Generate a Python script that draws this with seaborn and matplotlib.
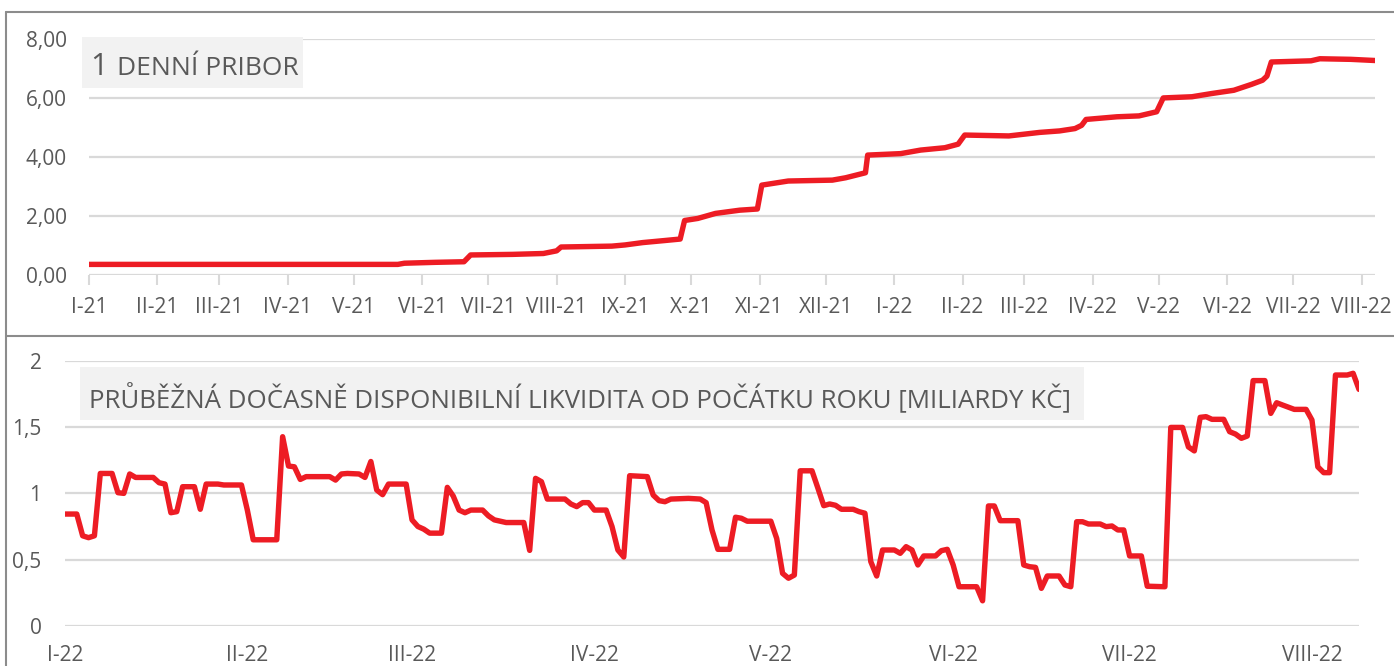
import numpy as np
import pandas as pd
import matplotlib.pyplot as plt
from matplotlib.lines import Line2D
from matplotlib.patches import Rectangle
import seaborn as sns

# 1 denni PRIBOR (%)
pribor_dates = ['2021-01-01', '2021-05-21', '2021-05-24', '2021-06-07', '2021-06-20',
                '2021-06-23', '2021-07-12', '2021-07-26', '2021-08-01', '2021-08-03',
                '2021-08-26', '2021-09-01', '2021-09-09', '2021-09-19', '2021-09-26',
                '2021-09-28', '2021-10-04', '2021-10-12', '2021-10-23', '2021-10-31',
                '2021-11-02', '2021-11-14', '2021-12-04', '2021-12-10', '2021-12-19',
                '2021-12-20', '2022-01-04', '2022-01-13', '2022-01-24', '2022-01-30',
                '2022-02-02', '2022-02-22', '2022-03-08', '2022-03-17', '2022-03-24',
                '2022-03-27', '2022-03-29', '2022-04-12', '2022-04-22', '2022-04-30',
                '2022-05-03', '2022-05-16', '2022-05-25', '2022-06-04', '2022-06-12',
                '2022-06-17', '2022-06-19', '2022-06-21', '2022-07-09', '2022-07-13',
                '2022-07-27', '2022-08-07']
pribor_vals = [0.36, 0.36, 0.40, 0.43, 0.45,
               0.68, 0.70, 0.73, 0.82, 0.95,
               0.98, 1.02, 1.10, 1.17, 1.22,
               1.85, 1.92, 2.09, 2.20, 2.24,
               3.05, 3.19, 3.22, 3.30, 3.47,
               4.07, 4.12, 4.24, 4.32, 4.44,
               4.75, 4.72, 4.84, 4.89, 4.97,
               5.08, 5.28, 5.37, 5.40, 5.54,
               6.01, 6.05, 6.16, 6.27, 6.47,
               6.61, 6.75, 7.23, 7.27, 7.34,
               7.32, 7.28]

# prubezna docasne disponibilni likvidita (mld. Kc), dny od 1.1.2022
liq_days = [0, 2, 3, 4, 5, 6, 8, 9, 10, 11, 12, 15, 16, 17, 18, 19, 20, 22, 23, 24,
            26, 27, 30, 31, 32, 36, 37, 38, 39, 40, 41, 45, 46, 47, 48, 50, 51, 52, 53, 54,
            55, 58, 59, 60, 61, 62, 64, 65, 66, 67, 68, 69, 71, 72, 73, 74, 75, 78, 79, 80,
            81, 82, 85, 86, 87, 88, 89, 90, 92, 93, 94, 95, 96, 99, 100, 101, 102, 103, 106, 108,
            109, 110, 111, 113, 114, 115, 116, 120, 121, 122, 123, 124, 125, 127, 128, 129, 130, 131, 132, 134,
            135, 136, 137, 138, 139, 141, 142, 143, 144, 145, 146, 148, 149, 150, 151, 152, 155, 156, 157, 158,
            159, 162, 163, 164, 165, 166, 167, 169, 170, 171, 172, 173, 174, 176, 177, 178, 179, 180, 181, 183,
            184, 187, 188, 190, 191, 192, 193, 194, 195, 197, 198, 199, 200, 201, 202, 204, 205, 206, 207, 209,
            211, 212, 213, 214, 215, 216, 218, 219, 220]
liq_vals = [0.844, 0.844, 0.68, 0.666, 0.68, 1.15, 1.15, 1.005, 1.0, 1.146, 1.12, 1.12, 1.08, 1.07, 0.854, 0.862, 1.05, 1.05, 0.88, 1.07,
            1.07, 1.063, 1.063, 0.874, 0.65, 0.65, 1.427, 1.206, 1.20, 1.105, 1.126, 1.126, 1.10, 1.146, 1.15, 1.146, 1.12, 1.24, 1.025, 0.99,
            1.07, 1.07, 0.80, 0.75, 0.73, 0.70, 0.70, 1.045, 0.98, 0.874, 0.854, 0.874, 0.874, 0.83, 0.80, 0.79, 0.78, 0.78, 0.57, 1.113,
            1.088, 0.957, 0.957, 0.92, 0.90, 0.93, 0.93, 0.874, 0.874, 0.75, 0.573, 0.52, 1.133, 1.126, 0.987, 0.945, 0.937, 0.957, 0.962, 0.957,
            0.93, 0.724, 0.578, 0.578, 0.82, 0.812, 0.79, 0.79, 0.66, 0.397, 0.36, 0.384, 1.17, 1.17, 1.04, 0.907, 0.92, 0.91, 0.88, 0.88,
            0.862, 0.85, 0.485, 0.377, 0.573, 0.573, 0.548, 0.598, 0.573, 0.46, 0.528, 0.528, 0.568, 0.578, 0.46, 0.296, 0.296, 0.19, 0.905, 0.905,
            0.794, 0.794, 0.46, 0.447, 0.442, 0.284, 0.377, 0.377, 0.309, 0.296, 0.786, 0.786, 0.769, 0.769, 0.749, 0.754, 0.724, 0.724, 0.528, 0.528,
            0.30, 0.296, 1.497, 1.497, 1.35, 1.32, 1.573, 1.578, 1.558, 1.558, 1.465, 1.447, 1.415, 1.432, 1.85, 1.85, 1.603, 1.683, 1.666, 1.633,
            1.633, 1.553, 1.20, 1.156, 1.156, 1.892, 1.892, 1.905, 1.784]

roman = ['I', 'II', 'III', 'IV', 'V', 'VI', 'VII', 'VIII', 'IX', 'X', 'XI', 'XII']
top_labels = [r + '-21' for r in roman] + [r + '-22' for r in roman[:8]]
bottom_labels = [r + '-22' for r in roman[:8]]

RED = '#ED1C24'
GRID = '#d9d9d9'
TXT = '#595959'

sns.set_theme(style='white')
plt.rcParams['font.family'] = ['Open Sans', 'DejaVu Sans']

W, H = 1394, 666
fx = lambda px: px / W
fy = lambda py: 1 - py / H

fig = plt.figure(figsize=(W / 100, H / 100), dpi=100)
ax1 = fig.add_axes([fx(89), fy(275), fx(1375) - fx(89), fy(39.3) - fy(275)])
ax2 = fig.add_axes([fx(65), fy(626), fx(1359) - fx(65), fy(360.7) - fy(626)])

top = pd.DataFrame({'datum': pd.to_datetime(pribor_dates), 'pribor': pribor_vals})
bot = pd.DataFrame({'datum': pd.Timestamp('2022-01-01') + pd.to_timedelta(liq_days, unit='D'),
                    'likvidita': liq_vals})

sns.lineplot(data=top, x='datum', y='pribor', ax=ax1, color=RED, linewidth=3.9)
sns.lineplot(data=bot, x='datum', y='likvidita', ax=ax2, color=RED, linewidth=3.9)

for ax in (ax1, ax2):
    ax.set_facecolor('none')
    for s in ax.spines.values():
        s.set_visible(False)
    ax.grid(axis='y', color=GRID, linewidth=1.6)
    ax.grid(axis='x', visible=False)
    ax.set_axisbelow(True)
    ax.set_xlabel('')
    ax.set_ylabel('')

ax1.set_xlim(pd.Timestamp('2021-01-01'), pd.Timestamp('2022-08-07'))
ax1.set_ylim(0, 8)
ax1.set_yticks([0, 2, 4, 6, 8])
ax1.set_yticklabels([f'{v:.2f}'.replace('.', ',') for v in [0, 2, 4, 6, 8]])
ax1.set_xticks(pd.date_range('2021-01-01', '2022-08-01', freq='MS'))
ax1.set_xticklabels(top_labels)
ax1.tick_params(axis='x', length=7, width=1.5, color=GRID, pad=9, labelsize=15, labelcolor=TXT, bottom=True)
ax1.tick_params(axis='y', length=0, pad=16, labelsize=15, labelcolor=TXT)

ax2.set_xlim(pd.Timestamp('2022-01-01'), pd.Timestamp('2022-08-09'))
ax2.set_ylim(0, 2)
ax2.set_yticks([0, 0.5, 1, 1.5, 2])
ax2.set_yticklabels(['0', '0,5', '1', '1,5', '2'])
ax2.set_xticks(pd.date_range('2022-01-01', '2022-08-01', freq='MS'))
ax2.set_xticklabels(bottom_labels)
ax2.tick_params(axis='x', length=0, pad=14, labelsize=15, labelcolor=TXT)
ax2.tick_params(axis='y', length=0, pad=17, labelsize=15, labelcolor=TXT)

# ramecky panelu
frame = '#8c8c8c'
fig.add_artist(Line2D([fx(6), 1], [fy(12), fy(12)], color=frame, linewidth=1.5))
fig.add_artist(Line2D([fx(6), fx(6)], [fy(12), 0], color=frame, linewidth=1.5))
fig.add_artist(Line2D([fx(6), 1], [fy(336), fy(336)], color=frame, linewidth=1.5))

# nadpisy v sedych boxech
fig.add_artist(Rectangle((fx(82), fy(88)), fx(303) - fx(82), fy(37) - fy(88),
                         facecolor='#f2f2f2', edgecolor='none', zorder=2))
fig.text(fx(90), fy(75), '1', fontsize=22, color=TXT, va='baseline', zorder=3)
fig.text(fx(117), fy(75), 'DENNÍ PRIBOR', fontsize=19, color=TXT, va='baseline', zorder=3)

fig.add_artist(Rectangle((fx(80), fy(420)), fx(1084) - fx(80), fy(367) - fy(420),
                         facecolor='#f2f2f2', edgecolor='none', zorder=2))
fig.text(fx(89), fy(407), 'PRŮBĚŽNÁ DOČASNĚ DISPONIBILNÍ LIKVIDITA OD POČÁTKU ROKU [MILIARDY KČ]',
         fontsize=18.6, color=TXT, va='baseline', zorder=3)

fig.savefig('out.png', dpi=100)
